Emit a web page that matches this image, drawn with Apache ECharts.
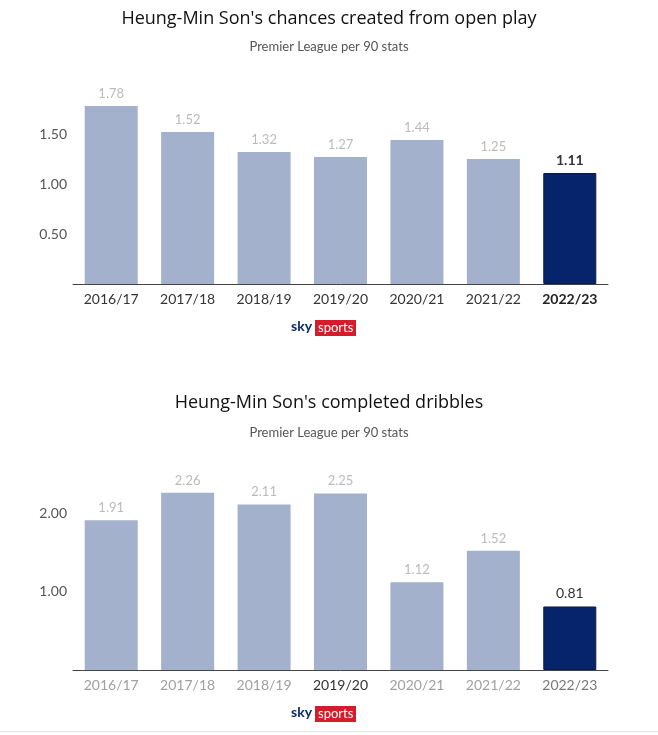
<!DOCTYPE html>
<html><head><meta charset="utf-8">
<script src="https://cdn.jsdelivr.net/npm/echarts@6/dist/echarts.min.js"></script>
<style>html,body{margin:0;padding:0;background:#fff}#c{width:658px;height:735px}</style>
</head><body><div id="c"></div>
<script>
const seasons = ['2016/17','2017/18','2018/19','2019/20','2020/21','2021/22','2022/23'];
const chancesValues = [1.78,1.52,1.32,1.27,1.44,1.25,1.11];
const dribbleValues = [1.91,2.26,2.11,2.25,1.12,1.52,0.81];
const chancesTicks = [0.5,1.0,1.5];
const dribbleTicks = [1.0,2.0];
const highlightIndex = 6;
const title1 = "Heung-Min Son's chances created from open play";
const title2 = "Heung-Min Son's completed dribbles";
const subtitle = "Premier League per 90 stats";

const LIGHT = '#a3b1cc', DARK = '#06246b';
const FONT = 'Lato, "Open Sans", sans-serif';

function barData(vals,hlWeight){
  return vals.map((v,i)=> i===highlightIndex ? {
    value:v, itemStyle:{color:DARK,borderColor:'#0b1a40',borderWidth:1},
    label:{color:'#333',fontWeight:hlWeight,fontSize:14}
  } : {value:v});
}
function yAxis(grid,max,interval,ticks){
  return {type:'value',gridIndex:grid,min:0,max:max,interval:interval,
    splitLine:{show:false},axisLine:{show:false},axisTick:{show:false},
    axisLabel:{margin:6,fontSize:14,color:'#555',fontFamily:FONT,
      formatter:v=> ticks.some(t=>Math.abs(t-v)<1e-9) ? v.toFixed(2) : ''}};
}
function xAxis(grid,styleFn){
  return {type:'category',gridIndex:grid,data:seasons,
    axisLine:{lineStyle:{color:'#444',width:1}},axisTick:{show:false},
    axisLabel:{margin:8,interval:0,fontFamily:FONT,fontSize:14,
      formatter:(v,i)=>'{'+styleFn(i)+'|'+v+'}',
      rich:{b:{color:'#222',fontWeight:'bold',fontSize:14,fontFamily:FONT},
            k:{color:'#333',fontSize:14,fontFamily:FONT},
            d:{color:'#777',fontSize:14,fontFamily:FONT},
            g:{color:'#a0a0a0',fontSize:14,fontFamily:FONT}}}};
}
function logo(y){
  return {type:'group',left:291,top:y,children:[
    {type:'text',left:0,top:0,style:{text:'sky',font:'bold 14px '+FONT,fill:'#0b2a6b'}},
    {type:'rect',shape:{x:24,y:1,width:41,height:16},style:{fill:'#d41c2a'}},
    {type:'text',left:27,top:2,style:{text:'sports',font:'13px '+FONT,fill:'#fff'}}
  ]};
}
const series = (xi,vals,w)=>({type:'bar',xAxisIndex:xi,yAxisIndex:xi,data:barData(vals,w),barWidth:53,
  itemStyle:{color:LIGHT},
  label:{show:true,position:'top',distance:6,color:'#bbb',fontSize:13,fontFamily:FONT,
    formatter:p=>p.value.toFixed(2)}});

const chart = echarts.init(document.getElementById('c'),null,{renderer:'canvas'});
chart.setOption({
  animation:false,
  title:[
    {text:title1,left:'center',top:5,textStyle:{fontSize:18,fontWeight:'normal',color:'#111',fontFamily:'"Open Sans", sans-serif'}},
    {text:subtitle,left:'center',top:35,textStyle:{fontSize:13,fontWeight:'normal',color:'#555',fontFamily:FONT}},
    {text:title2,left:'center',top:389,textStyle:{fontSize:18,fontWeight:'normal',color:'#111',fontFamily:'"Open Sans", sans-serif'}},
    {text:subtitle,left:'center',top:421,textStyle:{fontSize:13,fontWeight:'normal',color:'#555',fontFamily:FONT}}
  ],
  grid:[
    {left:73,right:50,top:84,height:200},
    {left:73,right:50,top:474,height:196}
  ],
  xAxis:[
    xAxis(0,i=> i===highlightIndex ? 'b':'k'),
    xAxis(1,i=> i===3 ? 'k' : (i===highlightIndex ? 'd' : 'g'))
  ],
  yAxis:[yAxis(0,2,0.5,chancesTicks),yAxis(1,2.5,0.5,dribbleTicks)],
  series:[series(0,chancesValues,'bold'),series(1,dribbleValues,'normal')],
  graphic:[logo(319),logo(705),
    {type:'rect',shape:{x:0,y:731,width:658,height:1},style:{fill:'#e2e2e2'}}]
});
</script></body></html>
